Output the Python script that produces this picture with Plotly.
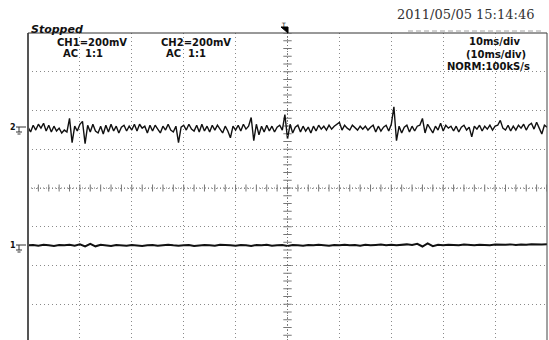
import plotly.graph_objects as go

# ---------------- data ----------------
# time axis: 10 ms/div, 10 divisions, trigger at centre
ch1_t_step_ms = 0.5
ch2_t_step_ms = 1.0
# CH1 waveform, mV (AC coupled, 200 mV/div)
ch1_mv = [
    10, -15, 20, -5, 25, 5, 30, -10, 20, -15,
    15, -10, 5, -20, -5, -15, 55, -70, 15, -10,
    25, 40, -75, 20, -15, 25, -10, -20, 15, -25,
    20, -15, 25, -10, 15, -20, 10, 20, -10, 15,
    -5, 25, -10, 25, 5, 15, -20, 20, -10, 20,
    0, -20, 15, -5, 25, -5, -15, 15, -70, 10,
    20, -5, 25, 0, -10, 20, -15, 25, -10, 15,
    -15, 20, -5, 20, 0, -20, 15, -10, -45, 15,
    -5, 20, -10, 25, 0, 15, 60, -60, 25, -30,
    15, -15, 20, -10, 15, -15, 10, 20, -5, 75,
    -50, 25, -20, 10, 20, -15, 15, -10, 10, -20,
    15, -10, 20, 0, 15, -5, 20, 0, 15, 25,
    35, -5, 20, 5, -5, 20, 5, -5, 15, 0,
    15, -5, 10, 20, -15, 15, -10, 10, 20, -10,
    25, 115, -60, 15, -20, 10, 20, -15, 15, -10,
    15, 20, 55, -20, 25, 0, -20, 15, -5, 30,
    -10, 20, 5, 15, -10, 15, -15, 10, 20, -5,
    10, -40, 15, 0, 20, -10, 15, 0, 20, -5,
    15, 20, 45, 5, -5, 20, -10, 15, -5, 20,
    5, 25, -5, 20, 30, 0, 35, 5, -25, 20, 10,
]
# CH2 waveform, mV
ch2_mv = [
    0, 2, -2, 3, 0, -3, 2, 0, 3, -2,
    5, -6, 8, -5, 3, 0, -3, 2, 0, -2,
    2, 0, -3, 0, 2, -2, 0, 3, 0, -2,
    0, 2, -3, 0, 2, 0, -2, 3, 0, 0,
    -2, 2, 0, -3, 2, 0, 3, -2, 0, 2,
    -3, 2, 0, -2, 2, 0, 3, 0, -2, 2,
    0, 3, 0, 2, -2, 3, 0, 2, 4, 0,
    3, 0, 2, 5, 2, 8, -6, 10, -4, 3,
    0, 3, 2, 0, 4, 2, 0, 3, 2, 0,
    4, 2, 3, 5, 2, 4, 3, 6, 4, 5, 6,
]
volts_per_div_mv = 200
ch1_label = "CH1=200mV"
ch2_label = "CH2=200mV"
coupling = "AC  1:1"
timebase = ["10ms/div", "(10ms/div)", "NORM:100kS/s"]
timestamp = "2011/05/05 15:14:46"
status = "Stopped"

# ---------------- figure geometry ----------------
W, H = 549, 340
L, R, T, B = 28, 2, 33, 0
PW, PH = W - L - R, H - T - B
ch1_pos_div = 1.52      # screen position of CH1 trace (div)
ch2_pos_div = -1.48     # screen position of CH2 trace (div)

def xp(px):
    return (px - L) / PW

def yp(py):
    return (H - B - py) / PH

t1 = [-50 + i * ch1_t_step_ms for i in range(len(ch1_mv))]
t2 = [-50 + i * ch2_t_step_ms for i in range(len(ch2_mv))]
y1 = [ch1_pos_div + v / volts_per_div_mv for v in ch1_mv]
y2 = [ch2_pos_div + v / volts_per_div_mv for v in ch2_mv]

fig = go.Figure()

# centre cross tick marks
tick_col = "#777777"
hx = [-50 + 2 * k for k in range(51)]
fig.add_trace(go.Scatter(x=hx, y=[0] * len(hx), mode="markers",
                         marker=dict(symbol="line-ns", size=5, line=dict(width=1, color=tick_col)),
                         hoverinfo="skip", showlegend=False))
vy = [round(-3.8 + 0.2 * k, 2) for k in range(40)]
fig.add_trace(go.Scatter(x=[0] * len(vy), y=vy, mode="markers",
                         marker=dict(symbol="line-ew", size=6, line=dict(width=1, color=tick_col)),
                         hoverinfo="skip", showlegend=False))

fig.add_trace(go.Scatter(x=t2, y=y2, mode="lines", line=dict(color="#111111", width=2),
                         hoverinfo="skip", showlegend=False))
fig.add_trace(go.Scatter(x=t1, y=y1, mode="lines", line=dict(color="#111111", width=1.4),
                         hoverinfo="skip", showlegend=False))

grid = dict(showgrid=True, gridcolor="#8a8a8a", gridwidth=1, griddash="1px,3px",
            zeroline=False, showticklabels=False, ticks="", showline=False, fixedrange=True)
fig.update_xaxes(range=[-50, 50], dtick=10, tick0=0, **grid)
fig.update_yaxes(range=[4 - PH / 38.75, 4], dtick=1, tick0=0, **grid)

shapes = []
# centre cross dotted lines
shapes.append(dict(type="line", xref="x", yref="paper", x0=0, x1=0, y0=0, y1=1,
                   line=dict(color=tick_col, width=1, dash="1px,2px")))
shapes.append(dict(type="line", xref="paper", yref="y", x0=0, x1=1, y0=0, y1=0,
                   line=dict(color=tick_col, width=1, dash="1px,2px")))
# borders
shapes.append(dict(type="line", xref="paper", yref="paper", x0=0, x1=0, y0=0, y1=1,
                   line=dict(color="#555555", width=2)))
shapes.append(dict(type="line", xref="paper", yref="paper", x0=0, x1=1, y0=1, y1=1,
                   line=dict(color="#333333", width=1)))
shapes.append(dict(type="line", xref="paper", yref="paper", x0=1, x1=1, y0=0, y1=1,
                   line=dict(color="#444444", width=1)))
# faint dashed line under the timestamp
shapes.append(dict(type="line", xref="paper", yref="paper", x0=xp(408), x1=xp(544),
                   y0=yp(31), y1=yp(31), line=dict(color="#a0a0a0", width=1, dash="5px,3px")))
# trigger position marker
shapes.append(dict(type="path", xref="paper", yref="paper",
                   path=f"M {xp(281)},{yp(27)} L {xp(288)},{yp(27)} L {xp(288)},{yp(33)} Z",
                   fillcolor="#000000", line=dict(color="#000000", width=1)))

# ground symbols
def ground(py):
    c = dict(color="#333333", width=1)
    return [
        dict(type="line", xref="paper", yref="paper", x0=xp(16), x1=xp(26), y0=yp(py), y1=yp(py), line=c),
        dict(type="line", xref="paper", yref="paper", x0=xp(19), x1=xp(19), y0=yp(py), y1=yp(py + 5), line=c),
        dict(type="line", xref="paper", yref="paper", x0=xp(16), x1=xp(22), y0=yp(py + 5), y1=yp(py + 5), line=c),
        dict(type="line", xref="paper", yref="paper", x0=xp(17.5), x1=xp(20.5), y0=yp(py + 7), y1=yp(py + 7), line=c),
    ]

shapes += ground(127)
shapes += ground(245)

fig.update_layout(shapes=shapes)

sans = "DejaVu Sans"

def ann(text, px, py, size=10, family=sans, color="#111111", xanchor="center", **kw):
    fig.add_annotation(text=text, x=xp(px), y=yp(py), xref="paper", yref="paper",
                       showarrow=False, xanchor=xanchor, yanchor="middle",
                       font=dict(size=size, family=family, color=color), **kw)

ann(f"<b><i>{status}</i></b>", 29, 29, size=11, xanchor="left")
ann(timestamp, 465, 15, size=13, family="DejaVu Serif", color="#333333")
ann(f"<b>{ch1_label}</b>", 92, 42, size=10)
ann(f"<b>{coupling}</b>", 83, 53.5, size=10)
ann(f"<b>{ch2_label}</b>", 195.5, 42, size=10)
ann(f"<b>{coupling}</b>", 186, 53.5, size=10)
ann(f"<b>{timebase[0]}</b>", 495, 41.5, size=10)
ann(f"<b>{timebase[1]}</b>", 495.5, 54, size=10)
ann(f"<b>{timebase[2]}</b>", 488.5, 66.5, size=10)
ann("T", 283, 24.5, size=6, family=sans, color="#000000")
ann("<b>2</b>", 12.5, 127, size=8)
ann("<b>1</b>", 12.5, 245, size=8)

fig.update_layout(width=W, height=H, margin=dict(l=L, r=R, t=T, b=B, pad=0),
                  paper_bgcolor="white", plot_bgcolor="white", showlegend=False)

fig.write_html("out.html", config={"displayModeBar": False},
               post_script="document.body.style.margin='0';document.body.style.overflow='hidden';")
